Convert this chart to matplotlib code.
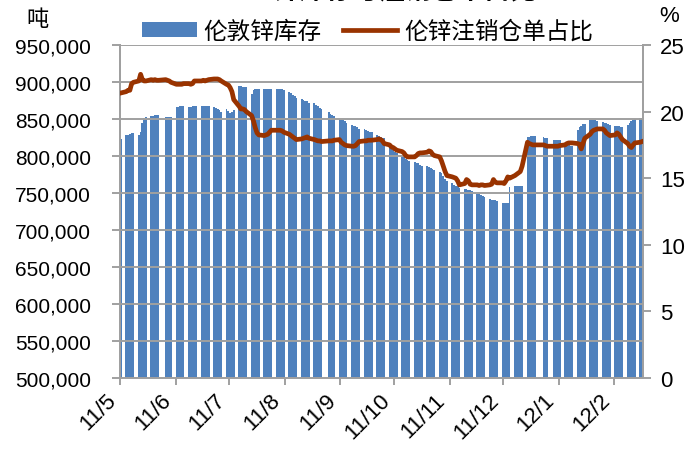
import matplotlib
matplotlib.use("Agg")
import matplotlib.pyplot as plt
import matplotlib.dates as mdates
import matplotlib.transforms as mtransforms
from matplotlib.patches import Patch
from matplotlib.lines import Line2D
import numpy as np
import pandas as pd

# ---- data ----
start_date = "2011-05-06"
end_date = "2012-02-21"
holidays = ["2011-05-30", "2011-08-29", "2011-12-26", "2011-12-27", "2012-01-02"]

# LME zinc stocks, thousand tonnes, one value per trading day
inventory_kt = [
    823,
    828, 829, 830, 831, 831,
    829, 832, 845, 852, 853,
    854, 854, 855, 855, 855,
    853, 853, 853, 853,
    866, 866, 867, 867, 867,
    866, 866, 867, 868, 868,
    868, 868, 868, 868, 867,
    866, 865, 864, 862, 860,
    863, 861, 858, 860, 862,
    894, 894, 893, 893, 893,
    884, 889, 891, 891, 890,
    890, 890, 891, 891, 891,
    890, 890, 890, 890, 889,
    887, 885, 883, 881, 879,
    877, 876, 875, 874, 872,
    871, 869, 867, 865, 863,
    859, 857, 856, 854,
    850, 849, 848, 847, 845,
    842, 841, 840, 839, 837,
    836, 835, 834, 833, 832,
    828, 827, 826, 825, 824,
    812, 810, 808, 806, 804,
    799, 798, 796, 794, 793,
    792, 791, 790, 788, 787,
    786, 785, 784, 783, 781,
    779, 777, 773, 769, 766,
    763, 761, 760, 759, 757,
    755, 755, 754, 754, 753,
    749, 748, 747, 746, 745,
    742, 741, 741, 740, 739,
    737, 736, 736, 737, 758,
    759, 759, 760, 760, 760,
    826, 826, 827, 827, 827,
    826, 825, 824,
    822, 821, 821, 821,
    816, 815, 815, 814, 814,
    835, 839, 841, 843, 843,
    848, 848, 848, 848, 847,
    846, 845, 844, 843, 842,
    841, 840, 840, 839, 839,
    842, 845, 847, 849, 850,
    851, 851,
]

# cancelled warrants share, %
cancel_ratio = [
    21.4,
    21.5, 21.6, 21.6, 22.1, 22.2,
    22.3, 22.8, 22.4, 22.3, 22.3,
    22.4, 22.35, 22.4, 22.35, 22.35,
    22.4, 22.35, 22.3, 22.2,
    22.05, 22.05, 22.05, 22.05, 22.1,
    22.1, 22.05, 22.1, 22.3, 22.3,
    22.3, 22.35, 22.3, 22.35, 22.4,
    22.45, 22.45, 22.45, 22.4, 22.3,
    22.05, 22.0, 21.8, 21.5, 20.9,
    20.4, 20.2, 20.2, 20.15, 20.0,
    19.7, 19.3, 18.8, 18.4, 18.25,
    18.2, 18.25, 18.3, 18.45, 18.6,
    18.6, 18.6, 18.6, 18.55, 18.45,
    18.3, 18.2, 18.1, 18.0, 17.9,
    17.95, 18.0, 18.05, 18.1, 18.0,
    17.9, 17.85, 17.8, 17.8, 17.75,
    17.8, 17.8, 17.8, 17.85,
    17.9, 17.7, 17.6, 17.5, 17.45,
    17.4, 17.4, 17.45, 17.6, 17.75,
    17.8, 17.8, 17.85, 17.85, 17.85,
    17.9, 17.95, 17.9, 17.8, 17.6,
    17.5, 17.35, 17.3, 17.2, 17.1,
    17.0, 16.9, 16.7, 16.6, 16.6,
    16.6, 16.7, 16.85, 16.9, 16.9,
    16.95, 17.05, 17.0, 16.8, 16.7,
    16.6, 16.3, 15.9, 15.5, 15.2,
    15.1, 15.05, 15.0, 14.8, 14.5,
    14.6, 14.9, 14.8, 14.55, 14.5,
    14.5, 14.45, 14.5, 14.5, 14.45,
    14.5, 14.55, 14.9, 14.7, 14.65,
    14.65, 14.6, 14.8, 15.1, 15.0,
    15.2, 15.3, 15.4, 15.5, 15.9,
    17.7, 17.6, 17.55, 17.5, 17.5,
    17.5, 17.45, 17.4,
    17.4, 17.4, 17.4, 17.45,
    17.5, 17.6, 17.65, 17.65, 17.65,
    17.6, 17.55, 17.2, 17.6, 18.0,
    18.3, 18.5, 18.6, 18.65, 18.7,
    18.7, 18.6, 18.4, 18.3, 18.2,
    18.25, 18.4, 18.3, 18.1, 17.9,
    17.6, 17.4, 17.3, 17.5, 17.65,
    17.7, 17.75,
]

tick_dates = ["2011-05-06", "2011-06-06", "2011-07-06", "2011-08-06", "2011-09-06",
              "2011-10-06", "2011-11-06", "2011-12-06", "2012-01-06", "2012-02-06"]
tick_labels = ["11/5", "11/6", "11/7", "11/8", "11/9", "11/10", "11/11", "11/12", "12/1", "12/2"]

title = "LME锌库存与注销仓单占比"
series_names = ["伦敦锌库存", "伦锌注销仓单占比"]

# ---- build ----
days = pd.bdate_range(start_date, end_date)
days = days[~days.isin(pd.to_datetime(holidays))]
assert len(days) == len(inventory_kt) == len(cancel_ratio)

num_font = "Liberation Sans"
cjk = ["Noto Sans CJK SC", "DejaVu Sans"]
BLUE = "#4F81BD"
RED = "#993300"
GRID = "#A0A0A0"

W, H = 694, 456
fig = plt.figure(figsize=(W / 100, H / 100), dpi=100)
L, R, T, B = 120, 643, 46, 379
ax = fig.add_axes([L / W, 1 - B / H, (R - L) / W, (B - T) / H])
ax2 = ax.twinx()

x = mdates.date2num(days) + 0.5
ax.bar(x, inventory_kt, width=1.0, color=BLUE, edgecolor="none", linewidth=0,
       antialiased=False, zorder=1)
ax.set_ylim(500, 950)
ax.set_yticks(np.arange(500, 951, 50))
ax.set_yticklabels([f"{int(v*1000):,}" for v in np.arange(500, 951, 50)],
                   fontsize=15, family=num_font)
ax.set_axisbelow(False)
ax.grid(axis="y", color=GRID, linewidth=1.4, zorder=2)
ax.grid(axis="x", visible=False)

xmin = mdates.date2num(pd.Timestamp(start_date))
xmax = mdates.date2num(pd.Timestamp("2012-02-22"))
ax.set_xlim(xmin, xmax)
ax.set_xticks(mdates.date2num(pd.to_datetime(tick_dates)))
ax.set_xticklabels(tick_labels, rotation=45, ha="right", fontsize=16, family=num_font)
offset = mtransforms.ScaledTranslation(7 / 100, 0, fig.dpi_scale_trans)
for lbl in ax.get_xticklabels():
    lbl.set_transform(lbl.get_transform() + offset)

ax2.plot(x, cancel_ratio, color=RED, linewidth=3.4, solid_joinstyle="round", zorder=3)
ax2.set_ylim(0, 25)
ax2.set_yticks(np.arange(0, 26, 5))
ax2.set_yticklabels([str(v) for v in range(0, 26, 5)], fontsize=16, family=num_font)

for a in (ax, ax2):
    for s in a.spines.values():
        s.set_color(GRID)
        s.set_linewidth(1.4)
    a.spines["top"].set_visible(False)
ax.tick_params(axis="y", length=5.5, width=1.4, color=GRID, pad=15.5, labelcolor="black")
ax.tick_params(axis="x", length=5, width=1.4, color=GRID, pad=3, labelcolor="black")
ax2.tick_params(axis="y", length=5.5, width=1.4, color=GRID, pad=7, labelcolor="black")

fig.text(37 / W, 1 - 20 / H, "吨", family=cjk, fontsize=16, ha="center", va="center")
fig.text(669 / W, 1 - 16 / H, "%", family=num_font, fontsize=16, ha="center", va="center")
fig.text(378 / W, 1 + 8 / H, title, family=cjk, fontsize=19, fontweight="bold",
         ha="center", va="center")

handles = [Patch(facecolor=BLUE, edgecolor="none"),
           Line2D([0], [0], color=RED, linewidth=3.4)]
fig.legend(handles, series_names, loc="center", bbox_to_anchor=(368 / W, 1 - 32 / H),
           ncol=2, frameon=False, prop={"family": cjk, "size": 17},
           handlelength=2.3, handleheight=0.6, handletextpad=0.3, columnspacing=0.9,
           borderpad=0, borderaxespad=0)

fig.savefig("out.png", dpi=100)
